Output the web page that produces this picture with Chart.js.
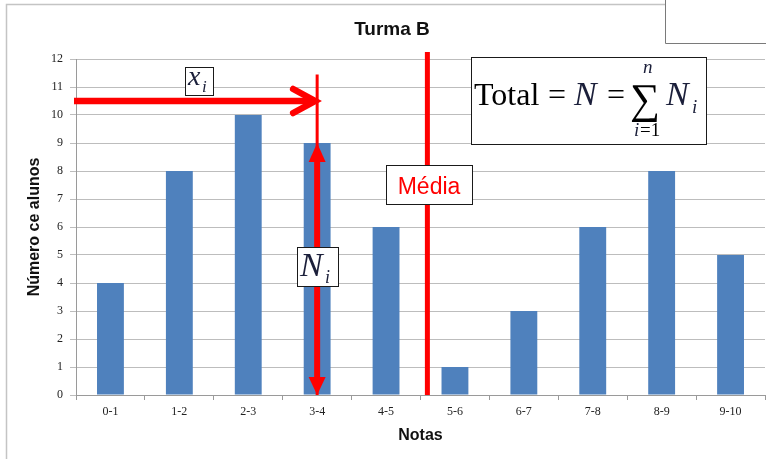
<!DOCTYPE html>
<html>
<head>
<meta charset="utf-8">
<script src="https://cdn.jsdelivr.net/npm/chart.js@4/dist/chart.umd.min.js"></script>
<style>
  html, body { margin: 0; padding: 0; background: #ffffff; }
  #wrap { width: 766px; height: 459px; }
</style>
</head>
<body>
<div id="wrap"><canvas id="c" width="766" height="459"></canvas></div>
<script>
// ---- Data ----
const categories = ['0-1', '1-2', '2-3', '3-4', '4-5', '5-6', '6-7', '7-8', '8-9', '9-10'];
const alunos = [4, 8, 10, 9, 6, 1, 3, 6, 8, 5];
const yTicks = [0, 1, 2, 3, 4, 5, 6, 7, 8, 9, 10, 11, 12];
const chartTitle = 'Turma B';
const yTitle = 'Número ce alunos';
const xTitle = 'Notas';

// annotation values (data space)
const xiArrowLevel = 10.5;      // y value of the horizontal x_i arrow
const xiCategory = 3;           // category index of 3-4
const xiLineTop = 11.45;        // top of thin vertical line
const niTop = 9;                // value of N_i arrow top
const mediaIndex = 4.6;         // position of "Média" line on category axis
const mediaTop = 12.25;         // top of Média line

const annotationPlugin = {
  id: 'annot',
  beforeDraw(chart) {
    const ctx = chart.ctx;
    ctx.save();
    ctx.fillStyle = '#ffffff';
    ctx.fillRect(0, 0, chart.width, chart.height);
    ctx.strokeStyle = '#c4c4c4';
    ctx.lineWidth = 1.5;
    ctx.beginPath();
    ctx.moveTo(6.5, 460);
    ctx.lineTo(6.5, 4.5);
    ctx.lineTo(766, 4.5);
    ctx.stroke();
    ctx.restore();
  },
  afterDatasetsDraw(chart) {
    const ctx = chart.ctx;
    const xs = chart.scales.x, ys = chart.scales.y;
    const y0 = ys.getPixelForValue(0);
    const red = '#ff0000';
    ctx.save();

    // thin vertical line at 3-4
    const cx = xs.getPixelForValue(xiCategory);
    ctx.strokeStyle = red;
    ctx.lineWidth = 3;
    ctx.beginPath();
    ctx.moveTo(cx, ys.getPixelForValue(xiLineTop));
    ctx.lineTo(cx, y0);
    ctx.stroke();

    // horizontal x_i arrow
    const ay = ys.getPixelForValue(xiArrowLevel);
    ctx.lineWidth = 6.5;
    ctx.lineCap = 'butt';
    ctx.beginPath();
    ctx.moveTo(xs.left - 2, ay);
    ctx.lineTo(cx - 4, ay);
    ctx.stroke();
    ctx.lineCap = 'round';
    ctx.lineJoin = 'miter';
    ctx.beginPath();
    ctx.moveTo(cx - 24, ay - 12);
    ctx.lineTo(cx - 2, ay);
    ctx.lineTo(cx - 24, ay + 12);
    ctx.stroke();

    // vertical N_i double arrow
    const topY = ys.getPixelForValue(niTop);
    ctx.lineCap = 'butt';
    ctx.lineWidth = 6;
    ctx.beginPath();
    ctx.moveTo(cx, topY + 15);
    ctx.lineTo(cx, y0 - 15);
    ctx.stroke();
    ctx.fillStyle = red;
    ctx.beginPath();
    ctx.moveTo(cx, topY);
    ctx.lineTo(cx - 8.5, topY + 19);
    ctx.lineTo(cx + 8.5, topY + 19);
    ctx.closePath();
    ctx.fill();
    ctx.beginPath();
    ctx.moveTo(cx, y0);
    ctx.lineTo(cx - 8.5, y0 - 18);
    ctx.lineTo(cx + 8.5, y0 - 18);
    ctx.closePath();
    ctx.fill();

    // Média line
    const mx = xs.getPixelForValue(mediaIndex);
    ctx.lineWidth = 5;
    ctx.beginPath();
    ctx.moveTo(mx, ys.getPixelForValue(mediaTop));
    ctx.lineTo(mx, y0);
    ctx.stroke();

    function box(x, y, w, h) {
      ctx.fillStyle = '#ffffff';
      ctx.fillRect(x, y, w, h);
      ctx.strokeStyle = '#1a1a1a';
      ctx.lineWidth = 1;
      ctx.strokeRect(x + 0.5, y + 0.5, w, h);
    }
    const navy = '#1b1f3a';
    ctx.textBaseline = 'alphabetic';
    ctx.textAlign = 'left';

    // x_i box
    box(185, 67, 28, 28);
    ctx.fillStyle = navy;
    ctx.font = 'italic 28px "Liberation Serif"';
    ctx.fillText('x', 188, 85);
    ctx.font = 'italic 17px "Liberation Serif"';
    ctx.fillText('i', 202, 92);

    // N_i box
    box(297, 247, 41, 39);
    ctx.fillStyle = navy;
    ctx.font = 'italic 34px "Liberation Serif"';
    ctx.fillText('N', 300, 276);
    ctx.font = 'italic 18px "Liberation Serif"';
    ctx.fillText('i', 325, 283);

    // Média box
    box(386, 165, 86, 39);
    ctx.fillStyle = red;
    ctx.font = '23px "Liberation Sans"';
    ctx.textAlign = 'center';
    ctx.fillText('Média', 429, 194);

    // formula box
    ctx.textAlign = 'left';
    box(471, 57, 235, 87);
    ctx.fillStyle = '#000000';
    ctx.font = '32px "Liberation Serif"';
    ctx.fillText('Total', 474, 105);
    ctx.fillText('=', 548, 105);
    ctx.fillText('=', 607, 105);
    ctx.fillStyle = navy;
    ctx.font = 'italic 34px "Liberation Serif"';
    ctx.fillText('N', 574, 105);
    ctx.fillText('N', 666, 105);
    ctx.font = 'italic 19px "Liberation Serif"';
    ctx.fillText('i', 692, 113);
    ctx.fillText('n', 643, 73);
    ctx.fillText('i', 634, 136);
    ctx.fillStyle = '#000000';
    ctx.font = '19px "Liberation Serif"';
    ctx.fillText('=1', 640, 136);
    ctx.font = '42px "Liberation Serif"';
    ctx.fillText('\u2211', 630, 113);

    // top-right box
    ctx.fillStyle = '#ffffff';
    ctx.fillRect(665, 0, 101, 43);
    ctx.strokeStyle = '#7a7a7a';
    ctx.lineWidth = 1;
    ctx.beginPath();
    ctx.moveTo(665.5, 0);
    ctx.lineTo(665.5, 43.5);
    ctx.lineTo(766, 43.5);
    ctx.stroke();

    ctx.restore();
  }
};

new Chart(document.getElementById('c'), {
  type: 'bar',
  data: {
    labels: categories,
    datasets: [{
      label: 'Número de alunos',
      data: alunos,
      backgroundColor: '#4f81bd',
      borderWidth: 0,
      barPercentage: 0.39,
      categoryPercentage: 1.0
    }]
  },
  options: {
    responsive: false,
    animation: false,
    devicePixelRatio: 1,
    layout: { padding: { left: 19, right: 1, top: 0, bottom: 0 } },
    plugins: {
      legend: { display: false },
      tooltip: { enabled: false },
      title: {
        display: true,
        text: chartTitle,
        color: '#111111',
        font: { family: '"Liberation Sans"', size: 19, weight: 'bold', lineHeight: 1.2 },
        padding: { top: 18.6, bottom: 17.6 }
      }
    },
    scales: {
      x: {
        offset: true,
        grid: {
          display: true,
          offset: true,
          drawOnChartArea: false,
          drawTicks: true,
          tickLength: 5,
          color: '#9a9a9a'
        },
        border: { display: true, color: '#9a9a9a', width: 1 },
        ticks: {
          color: '#222222',
          font: { family: '"Liberation Serif"', size: 12 },
          padding: 5,
          maxRotation: 0,
          autoSkip: false
        },
        title: {
          display: true,
          text: xTitle,
          color: '#111111',
          font: { family: '"Liberation Sans"', size: 16, weight: 'bold', lineHeight: 1.2 },
          padding: { top: 4, bottom: 14 }
        },
        afterFit(scale) { scale.height = 64; }
      },
      y: {
        min: 0,
        max: 12,
        afterBuildTicks(scale) { scale.ticks = yTicks.map(v => ({ value: v })); },
        grid: {
          color: '#bdbdbd',
          lineWidth: 1,
          drawTicks: true,
          tickLength: 6
        },
        border: { display: true, color: '#9a9a9a', width: 1 },
        ticks: {
          color: '#222222',
          font: { family: '"Liberation Serif"', size: 12 },
          padding: 7
        },
        title: {
          display: true,
          text: yTitle,
          color: '#111111',
          font: { family: '"Liberation Sans"', size: 16, weight: 'bold', lineHeight: 1.2 },
          padding: { top: 6, bottom: 0 }
        },
        afterFit(scale) { scale.width = 57; }
      }
    }
  },
  plugins: [annotationPlugin]
});
</script>
</body>
</html>
